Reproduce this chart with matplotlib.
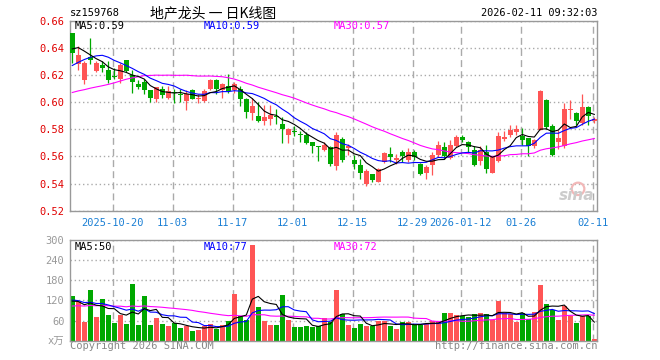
import matplotlib
matplotlib.use('Agg')
import matplotlib.pyplot as plt
from matplotlib.patches import Ellipse
import numpy as np
import pandas as pd

plt.rcParams['font.family'] = ['DejaVu Sans Mono', 'Noto Sans CJK SC']

# 交易日: 2025-10-09 ~ 2026-02-11 (除去元旦假期)
dates = pd.bdate_range('2025-10-09', '2026-02-11')
dates = dates[~dates.isin(pd.to_datetime(['2026-01-01', '2026-01-02']))]

opens = [0.651, 0.628, 0.616, 0.633, 0.623, 0.627, 0.624, 0.619, 0.617, 0.631,
         0.620, 0.613, 0.615, 0.609, 0.602, 0.610, 0.603, 0.607, 0.606, 0.601,
         0.609, 0.602, 0.601, 0.610, 0.616, 0.609, 0.612, 0.609, 0.610, 0.602,
         0.592, 0.590, 0.586, 0.5875, 0.590, 0.584, 0.576, 0.578, 0.576, 0.576,
         0.5705, 0.5675, 0.5645, 0.567, 0.553, 0.573, 0.5665, 0.557, 0.554, 0.540,
         0.5467, 0.5415, 0.5558, 0.562, 0.5575, 0.563, 0.557, 0.563, 0.5545, 0.548,
         0.554, 0.561, 0.567, 0.5585, 0.568, 0.574, 0.5705, 0.5646, 0.5565, 0.5632,
         0.548, 0.5565, 0.5725, 0.5761, 0.5783, 0.5749, 0.5732, 0.5675, 0.5798, 0.6019,
         0.5827, 0.5705, 0.5675, 0.5941, 0.5921, 0.5847, 0.5965, 0.5859]
highs = [0.651, 0.641, 0.630, 0.647, 0.630, 0.630, 0.630, 0.625, 0.629, 0.631,
         0.624, 0.616, 0.617, 0.609, 0.611, 0.612, 0.612, 0.610, 0.610, 0.609,
         0.610, 0.606, 0.610, 0.617, 0.617, 0.614, 0.621, 0.615, 0.612, 0.603,
         0.603, 0.600, 0.598, 0.598, 0.595, 0.589, 0.581, 0.5825, 0.5785, 0.578,
         0.5705, 0.5675, 0.5705, 0.5675, 0.578, 0.574, 0.5695, 0.561, 0.558, 0.5505,
         0.547, 0.5515, 0.563, 0.567, 0.562, 0.5645, 0.566, 0.5645, 0.555, 0.5535,
         0.5635, 0.5715, 0.5705, 0.572, 0.5755, 0.5755, 0.571, 0.568, 0.5675, 0.5685,
         0.5605, 0.578, 0.5785, 0.5835, 0.5835, 0.581, 0.5732, 0.5725, 0.6088, 0.6024,
         0.5842, 0.5798, 0.5995, 0.6016, 0.593, 0.6058, 0.5975, 0.5888]
lows = [0.629, 0.624, 0.613, 0.628, 0.622, 0.622, 0.614, 0.617, 0.614, 0.622,
        0.607, 0.610, 0.606, 0.600, 0.600, 0.603, 0.602, 0.599, 0.600, 0.5945,
        0.602, 0.599, 0.600, 0.609, 0.606, 0.603, 0.607, 0.607, 0.597, 0.588,
        0.5865, 0.585, 0.5835, 0.5835, 0.584, 0.570, 0.570, 0.575, 0.5705, 0.5695,
        0.5625, 0.5565, 0.564, 0.553, 0.550, 0.556, 0.561, 0.551, 0.5435, 0.538,
        0.541, 0.541, 0.5555, 0.556, 0.5545, 0.556, 0.556, 0.557, 0.546, 0.543,
        0.5465, 0.5595, 0.5578, 0.558, 0.567, 0.5705, 0.5626, 0.5528, 0.5535, 0.548,
        0.5475, 0.556, 0.571, 0.5744, 0.576, 0.5687, 0.5606, 0.5663, 0.5795, 0.5803,
        0.5606, 0.5651, 0.5663, 0.5872, 0.5828, 0.5828, 0.5828, 0.5843]
closes = [0.636, 0.635, 0.629, 0.631, 0.629, 0.625, 0.616, 0.6185, 0.627, 0.623,
          0.615, 0.611, 0.609, 0.603, 0.611, 0.605, 0.608, 0.6065, 0.605, 0.606,
          0.602, 0.603, 0.608, 0.616, 0.610, 0.613, 0.608, 0.613, 0.602, 0.593,
          0.597, 0.586, 0.589, 0.5905, 0.589, 0.5805, 0.580, 0.5778, 0.5758, 0.570,
          0.5675, 0.567, 0.5685, 0.5545, 0.576, 0.557, 0.5675, 0.5545, 0.548, 0.5495,
          0.5427, 0.551, 0.5626, 0.5595, 0.559, 0.5605, 0.563, 0.5595, 0.547, 0.552,
          0.561, 0.5685, 0.5601, 0.5685, 0.5745, 0.572, 0.567, 0.554, 0.5646, 0.5509,
          0.5605, 0.5748, 0.5745, 0.5791, 0.5805, 0.5719, 0.5675, 0.5724, 0.6081, 0.5818,
          0.5614, 0.5732, 0.5949, 0.595, 0.586, 0.5965, 0.5897, 0.5876]
# 成交量(万)
volumes = [134, 114, 57, 151, 72, 124, 76, 54, 78, 49,
           169, 48, 134, 48, 68, 50, 44, 52, 38, 45,
           29, 32, 44, 50, 36, 48, 59, 139, 74, 62,
           285, 100, 59, 48, 48, 136, 62, 41, 41, 44,
           42, 44, 67, 55, 151, 81, 47, 38, 50, 44,
           44, 59, 59, 44, 35, 56, 56, 47, 47, 50,
           59, 59, 82, 82, 76, 73, 70, 79, 82, 79,
           62, 118, 82, 79, 56, 82, 65, 85, 166, 109,
           91, 62, 103, 73, 53, 73, 73, 5]

# 图左侧之前的收盘价/成交量(估计, 只用于均线起点)
pre_close = [0.600, 0.602, 0.598, 0.601, 0.599, 0.586, 0.584, 0.587, 0.583, 0.585,
             0.586, 0.584, 0.600, 0.604, 0.608, 0.605, 0.610, 0.606, 0.603, 0.612,
             0.612, 0.608, 0.615, 0.618, 0.621, 0.630, 0.642, 0.645, 0.643]
pre_vol = [90, 85, 100, 95, 88, 110, 92, 80, 105, 98,
           90, 86, 102, 95, 88, 100, 97, 93, 99, 97,
           130, 115, 140, 110, 125, 120, 105, 125, 106]

tick_dates = ['2025-10-20', '2025-11-03', '2025-11-17', '2025-12-01', '2025-12-15',
              '2025-12-29', '2026-01-12', '2026-01-26', '2026-02-11']
tick_labels = ['2025-10-20', '11-03', '11-17', '12-01', '12-15',
               '12-29', '2026-01-12', '01-26', '02-11']
price_ticks = [0.52, 0.54, 0.56, 0.58, 0.60, 0.62, 0.64, 0.66]
vol_ticks = [0, 60, 120, 180, 240, 300]
vol_tick_labels = ['x万', '60', '120', '180', '240', '300']

RED = '#ff5555'
GREEN = '#00a800'
GRID = '#aaaaaa'
MA_COLORS = {5: 'black', 10: '#0000ff', 30: '#ff00ff'}


def main():
    n_pre = len(pre_close)
    s_close = pd.Series(pre_close + closes)
    s_vol = pd.Series(pre_vol + volumes)
    ma_p = {w: s_close.rolling(w).mean().values[n_pre:] for w in (5, 10, 30)}
    ma_v = {w: s_vol.rolling(w).mean().values[n_pre:] for w in (5, 10, 30)}

    x = np.arange(len(closes))
    o, h, l, c = (np.array(a) for a in (opens, highs, lows, closes))
    col = np.where(c >= o, RED, GREEN)
    date_str = list(dates.strftime('%Y-%m-%d'))
    tick_pos = [date_str.index(d) - 0.27 for d in tick_dates]

    fig = plt.figure(figsize=(6.6, 3.6), dpi=100)
    ax = fig.add_axes([70 / 660, 1 - 210.7 / 360, 527 / 660, 190 / 360])
    axv = fig.add_axes([70 / 660, 1 - 340.7 / 360, 527 / 660, 100.7 / 360])

    # K线
    ax.vlines(x, l, h, colors=col, linewidth=0.9, zorder=2)
    body = np.maximum(np.abs(c - o), 0.0006)
    ax.bar(x, body, bottom=np.minimum(o, c), width=0.8, color=col,
           linewidth=0, zorder=3)
    for w in (30, 10, 5):
        ax.plot(x, ma_p[w], color=MA_COLORS[w], linewidth=0.8, zorder=4)

    # 成交量
    axv.bar(x, volumes, width=0.8, color=col, linewidth=0, zorder=2)
    for w in (30, 10, 5):
        axv.plot(x, ma_v[w], color=MA_COLORS[w], linewidth=0.8, zorder=3)

    for a in (ax, axv):
        a.set_xlim(-0.38, len(closes) - 0.55)
        a.set_xticks(tick_pos)
        a.grid(axis='x', color=GRID, linestyle=(0, (5, 3)), linewidth=1)
        a.grid(axis='y', color=GRID, linestyle=(0, (1, 2)), linewidth=1)
        a.set_axisbelow(True)
        for sp in a.spines.values():
            sp.set_color('#999999')
            sp.set_linewidth(1)
        a.tick_params(length=0, labelsize=7.5)

    ax.set_ylim(0.52, 0.66)
    ax.set_yticks(price_ticks)
    ax.set_yticklabels(['%.2f' % v for v in price_ticks], color='#e00000')
    ax.set_xticklabels(tick_labels, color='#1a7fd4')
    ax.tick_params(axis='x', pad=5)
    ax.tick_params(axis='y', pad=4)

    axv.set_ylim(0, 300)
    axv.set_yticks(vol_ticks)
    axv.set_yticklabels(vol_tick_labels, color='#999999')
    axv.set_xticklabels([])
    axv.tick_params(axis='y', pad=4)

    # sina 水印
    ax.add_patch(Ellipse((0.964, 0.115), 0.024, 0.065, transform=ax.transAxes,
                         fill=False, edgecolor='#f2b8b8', linewidth=1.6))
    ax.text(0.995, 0.04, 'sina', transform=ax.transAxes, ha='right', va='bottom',
            fontsize=11, fontweight='bold', style='italic', color='#cccccc',
            family='DejaVu Sans')

    # 文字
    fig.text(70 / 660, 1 - 13 / 360, 'sz159768', fontsize=7.5, va='center')
    fig.text(150 / 660, 1 - 13 / 360, '地产龙头 一 日K线图', fontsize=10, va='center',
             family=['Noto Sans CJK SC', 'DejaVu Sans'])
    fig.text(597 / 660, 1 - 13 / 360, '2026-02-11 09:32:03', fontsize=7.4,
             va='center', ha='right')

    fig.text(75 / 660, 1 - 26 / 360, 'MA5:0.59', fontsize=7.5, va='center',
             color='black')
    fig.text(204 / 660, 1 - 26 / 360, 'MA10:0.59', fontsize=7.5, va='center',
             color='#0000ff')
    fig.text(334 / 660, 1 - 26 / 360, 'MA30:0.57', fontsize=7.5, va='center',
             color='#ff00ff')
    fig.text(75 / 660, 1 - 246.5 / 360, 'MA5:50', fontsize=7.5, va='center',
             color='black')
    fig.text(204 / 660, 1 - 246.5 / 360, 'MA10:77', fontsize=7.5, va='center',
             color='#0000ff')
    fig.text(334 / 660, 1 - 246.5 / 360, 'MA30:72', fontsize=7.5, va='center',
             color='#ff00ff')

    fig.text(70 / 660, 1 - 346 / 360, 'Copyright 2026 SINA.COM', fontsize=7.5,
             va='center', color='#888888')
    fig.text(597 / 660, 1 - 346 / 360, 'http://finance.sina.com.cn', fontsize=7.5,
             va='center', ha='right', color='#888888')

    fig.savefig('out.png', dpi=100)


if __name__ == '__main__':
    main()
